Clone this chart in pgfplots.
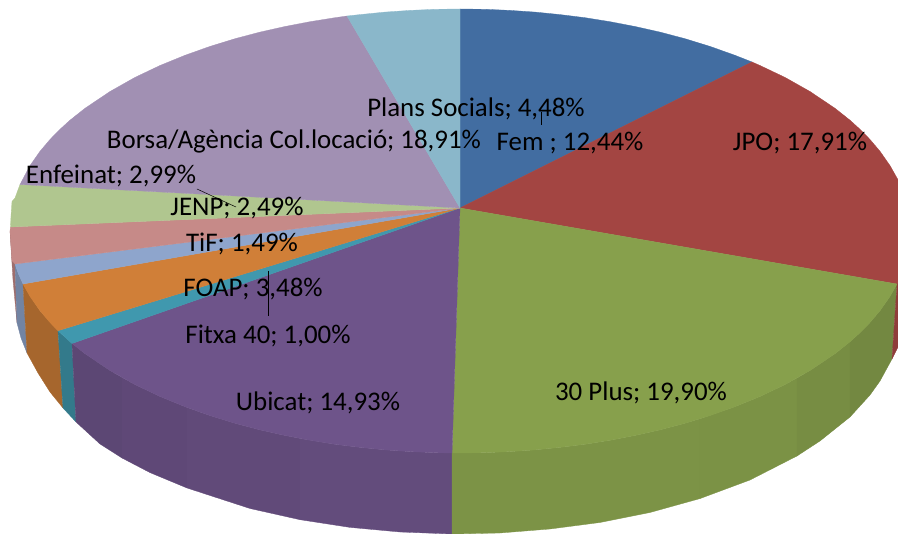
\documentclass[border=0pt]{standalone}
\usepackage{fontspec}
\setmainfont{Carlito}
\usepackage{pgfplots}
\pgfplotsset{compat=1.18}
\definecolor{fem}{HTML}{426DA1}
\definecolor{jpo}{HTML}{A34542}
\definecolor{plus}{HTML}{87A04C}
\definecolor{ubicat}{HTML}{6E548A}
\definecolor{fitxa}{HTML}{4098AE}
\definecolor{foap}{HTML}{D07F38}
\definecolor{tif}{HTML}{8EA5CC}
\definecolor{jenp}{HTML}{C68A88}
\definecolor{enfeinat}{HTML}{B0C68F}
\definecolor{borsa}{HTML}{A190B3}
\definecolor{plans}{HTML}{8AB7CA}
\tikzset{
  slice/.style={fill=#1, draw=#1, line width=0.3pt},
  lbl/.style={font=\fontsize{26.9}{30}\selectfont, text=black, inner sep=0pt},
}
\begin{document}
\begin{tikzpicture}
\begin{axis}[
  at={(0,0)}, anchor=south west,
  width=898pt, height=534pt, scale only axis,
  xmin=0, xmax=898, ymin=0, ymax=534, y dir=reverse,
  hide axis,
]
% keep the page as large as the whole frame
\path (axis cs:0,0) rectangle (axis cs:898,534);
% side walls in pixels
\addplot[slice=jenp!80!black] coordinates {(10,231)(15,264)(17,323)(13,280)} --cycle;
\addplot[slice=tif!80!black] coordinates {(15,264)(18,273)(23,284)(27,353)(21,338)(17,323)} --cycle;
\addplot[slice=foap!80!black] coordinates {(23,284)(30,296)(40,311)(50,322)(58,331)(63,408)(50,392)(38,373)(27,353)} --cycle;
\addplot[slice=fitxa!80!black] coordinates {(58,331)(72,343.5)(76,422)(63,408)} --cycle;
\addplot[slice=ubicat!84!black] coordinates {(72,343.5)(85,353.7)(110,370.5)(122,377.5)(122,458)(100,444)(76,422)} --cycle;
\addplot[slice=ubicat!86!black] coordinates {(122,377.5)(135,384.6)(160,396.5)(187,407.5)(187,488)(150,472.6)(122,458)} --cycle;
\addplot[slice=ubicat!88!black] coordinates {(187,407.5)(210,415.6)(235,423.3)(260,429.9)(285,435.5)(300,438.5)(300,519.7)(250,508.5)(187,488)} --cycle;
\addplot[slice=ubicat!90!black] coordinates {(300,438.5)(335,444.3)(360,447.4)(385,449.9)(410,451.6)(435,452.7)(452,453)(452,534)(400,532)(350,527.4)(300,519.7)} --cycle;
\addplot[slice=plus!92!black] coordinates {(452,453)(485,452.7)(510,451.6)(535,449.9)(560,447.4)(585,444.3)(610,440.3)(635,435.5)(660,429.9)(685,423.3)(700,418.8)(700,498.6)(650,512.5)(600,522.5)(550,529)(500,533)(452,534)} --cycle;
\addplot[slice=plus!91!black] coordinates {(700,418.8)(735,406.7)(760,396.5)(785,384.6)(797,378)(797,456)(750,480)(700,498.6)} --cycle;
\addplot[slice=plus!88!black] coordinates {(797,378)(810,370.5)(835,353.7)(850,341.8)(850,417)(820,441)(797,456)} --cycle;
\addplot[slice=plus!85!black] coordinates {(850,341.8)(860,332.7)(870,322.5)(880,310.7)(890,296.4)(897,284)(892,359)(880,381)(870,395)(850,417)} --cycle;
\addplot[slice=jpo!88!black] coordinates {(897,284)(898,282)(898,347)(892,359)} --cycle;
% top face
\addplot[slice=fem] coordinates {(460,208)(460,9)(485,9.3)(510,10.4)(535,12.1)(560,14.6)(585,17.7)(610,21.7)(635,26.5)(660,32.1)(685,38.7)(710,46.4)(735,55.3)(752,62)} --cycle;
\addplot[slice=jpo] coordinates {(460,208)(752,62)(760,65.5)(785,77.4)(810,91.5)(835,108.3)(850,120.2)(860,129.3)(870,139.5)(880,151.3)(890,165.6)(897,178)(898,180)(898,282)(897,284)} --cycle;
\addplot[slice=plus] coordinates {(460,208)(897,284)(890,296.4)(880,310.7)(870,322.5)(860,332.7)(850,341.8)(835,353.7)(810,370.5)(785,384.6)(760,396.5)(735,406.7)(710,415.6)(685,423.3)(660,429.9)(635,435.5)(610,440.3)(585,444.3)(560,447.4)(535,449.9)(510,451.6)(485,452.7)(460,453)(452,453)} --cycle;
\addplot[slice=ubicat] coordinates {(460,208)(452,453)(435,452.7)(410,451.6)(385,449.9)(360,447.4)(335,444.3)(310,440.3)(285,435.5)(260,429.9)(235,423.3)(210,415.6)(185,406.7)(160,396.5)(135,384.6)(110,370.5)(85,353.7)(72,343.5)} --cycle;
\addplot[slice=fitxa] coordinates {(460,208)(72,343.5)(58,330.7)} --cycle;
\addplot[slice=foap] coordinates {(460,208)(58,330.7)(50,322.5)(40,310.7)(30,296.4)(23,284)} --cycle;
\addplot[slice=tif] coordinates {(460,208)(23,284)(18,272.7)(15,264)} --cycle;
\addplot[slice=jenp] coordinates {(460,208)(15,264)(12,260.5)(11,245.8)(10,231)(10.5,227)} --cycle;
\addplot[slice=enfeinat] coordinates {(460,208)(10.5,227)(11,216)(12,201.5)(15,198)(20,184.5)} --cycle;
\addplot[slice=borsa] coordinates {(460,208)(20,184.5)(30,165.6)(40,151.3)(50,139.5)(60,129.3)(70,120.2)(85,108.3)(110,91.5)(135,77.4)(160,65.5)(185,55.3)(210,46.4)(235,38.7)(260,32.1)(285,26.5)(310,21.7)(335,17.7)(347,16)} --cycle;
\addplot[slice=plans] coordinates {(460,208)(347,16)(360,14.6)(385,12.1)(410,10.4)(435,9.3)(460,9)} --cycle;
% leader lines
\addplot[black, line width=0.5pt] coordinates {(541,112)(541,125)};
\addplot[black, line width=0.5pt] coordinates {(197,189)(236,207)};
\addplot[black, line width=0.5pt] coordinates {(268,271)(268,316)};
% data labels
\node[lbl] at (axis cs:476,108.5) {Plans Socials; 4,48\%};
\node[lbl] at (axis cs:294,141.5) {Borsa/Agència Col.locació; 18,91\%};
\node[lbl] at (axis cs:570,143.5) {Fem ; 12,44\%};
\node[lbl] at (axis cs:800,143.5) {JPO; 17,91\%};
\node[lbl] at (axis cs:111,175.5) {Enfeinat; 2,99\%};
\node[lbl] at (axis cs:237,208.5) {JENP; 2,49\%};
\node[lbl] at (axis cs:242,243.5) {TiF; 1,49\%};
\node[lbl] at (axis cs:253,289.5) {FOAP; 3,48\%};
\node[lbl] at (axis cs:268,335.5) {Fitxa 40; 1,00\%};
\node[lbl] at (axis cs:318,402.5) {Ubicat; 14,93\%};
\node[lbl] at (axis cs:641,392.5) {30 Plus; 19,90\%};
\end{axis}
\end{tikzpicture}
\end{document}
